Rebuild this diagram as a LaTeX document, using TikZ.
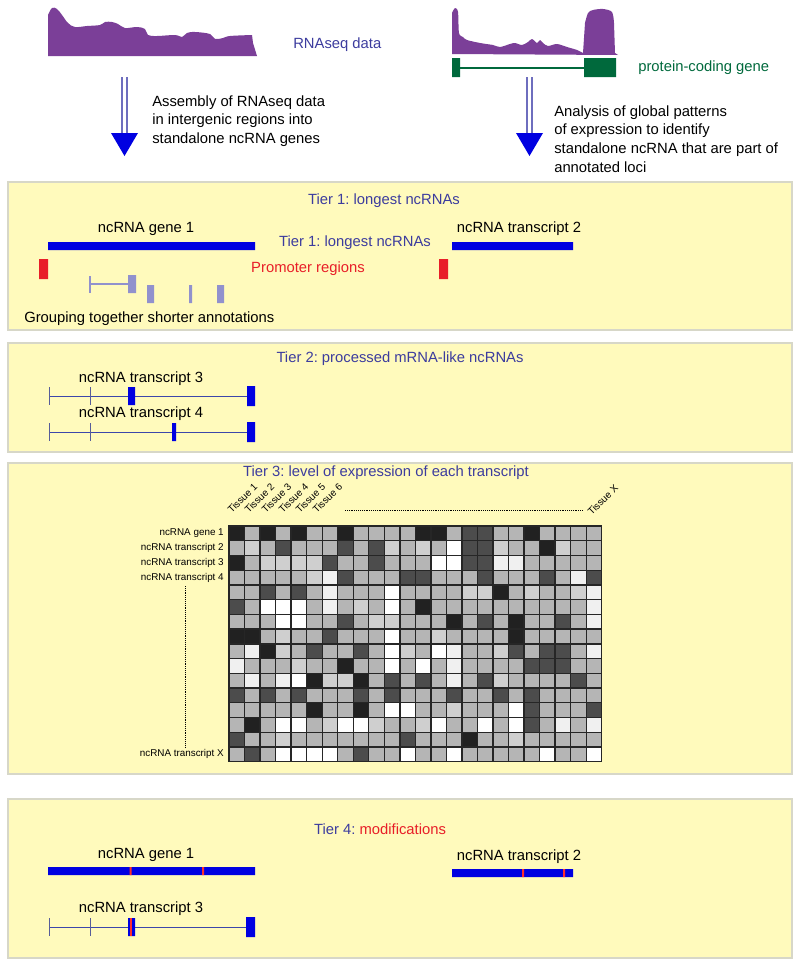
\documentclass[tikz,border=0pt]{standalone}
\usepackage{fontspec}
\setmainfont{Liberation Sans}
\frenchspacing
\definecolor{peak}{RGB}{123,63,152}
\definecolor{tiertxt}{RGB}{60,60,158}
\definecolor{genegreen}{RGB}{0,105,60}
\definecolor{barblue}{RGB}{0,0,225}
\definecolor{promred}{RGB}{232,30,40}
\definecolor{modred}{RGB}{255,45,45}
\definecolor{shortlav}{RGB}{145,145,205}
\definecolor{panelfill}{RGB}{255,250,188}
\definecolor{panelline}{RGB}{215,215,200}
\definecolor{intron}{RGB}{60,70,170}
\definecolor{shaft}{RGB}{110,110,190}
\begin{document}
\begin{tikzpicture}[x=0.75pt,y=-0.75pt,
    txt/.style={inner sep=0pt,font=\fontsize{11.1}{14}\selectfont},
    tier/.style={txt,text=tiertxt},
    small/.style={inner sep=0pt,font=\fontsize{7.4}{9}\selectfont},
    panel/.style={fill=panelfill,draw=panelline,line width=0.8pt},
    intronline/.style={draw=intron,line width=0.7pt},
    tickline/.style={draw=intron!60!gray,line width=0.7pt},
    cellK/.style={fill=black!87},
    cellD/.style={fill=black!70},
    cellM/.style={fill=black!29},
    cellL/.style={fill=black!19},
    cellE/.style={fill=black!6},
    cellW/.style={fill=white}]
\useasboundingbox (0,0) rectangle (800,967);

\fill[peak] (48,56) -- plot[smooth,tension=0.6] coordinates {(48,15) (52,8) (57,9) (62,15) (68,23) (75,27) (87,26) (100,25) (105,22) (112,22) (118,24) (125,28) (137,27) (145,29) (148,35) (157,36) (175,35) (182,37) (187,33) (195,32) (210,34) (215,39) (223,38) (230,36) (252,35)} -- (253,43) -- (257,56) -- cycle;
\fill[peak] (452,54) -- plot[smooth,tension=0.5] coordinates {(452,13) (455,8) (458,12) (459,33) (463,37) (467,40) (480,43) (493,45) (500,47) (510,44) (515,43) (522,45) (528,42) (532,39) (537,43) (540,40) (543,43) (548,46) (557,44) (567,47) (577,50) (583,53)} -- plot[smooth] coordinates {(585,23) (588,13) (593,10) (603,9) (612,12) (614,23)} -- (615,53) -- (618,55) -- cycle;
\fill[genegreen] (452,58) rectangle (460,77) (584,58) rectangle (616,77);
\draw[genegreen,line width=0.8pt] (460,68) -- (584,68);
\node[tier,anchor=west] (rnaseq) at (293,45) {RNAseq data};
\node[txt,text=genegreen,anchor=west] (pcg) at (638,68) {protein-coding gene};

\foreach \ax in {124.5,529.5} {
    \coordinate (arr) at (\ax,77);
    \draw[shaft,line width=0.8pt] (arr) ++(-2.5,0) -- ++(0,57) (arr) ++(2.5,0) -- ++(0,57);
    \fill[barblue] (arr) ++(-13.5,56) -- ++(27,0) -- ++(-13.5,23) -- cycle;
}
\node[txt,align=left,anchor=west] (asm) at (152,121) {Assembly of RNAseq data\\in intergenic regions into\\standalone ncRNA genes};
\node[txt,align=left,anchor=west] (glob) at (554,139) {Analysis of global patterns\\of expression to identify\\standalone ncRNA that are part of\\annotated loci};

\draw[panel] (8,182) rectangle (792,330);
\node[tier] (tone) at (384,201) {Tier 1: longest ncRNAs};
\node[txt] (geneone) at (146,229) {ncRNA gene 1};
\node[txt] (trtwo) at (519,229) {ncRNA transcript 2};
\fill[barblue] (48,242) rectangle (255,250) (452,242) rectangle (573,250);
\node[tier] (toneb) at (355,243) {Tier 1: longest ncRNAs};
\fill[promred] (39,259) rectangle (48,279) (439,259) rectangle (448,279);
\node[txt,text=promred] (prom) at (308,269) {Promoter regions};
\draw[shortlav,line width=0.8pt] (90,276) -- (90,293) (90,284) -- (128,284);
\fill[shortlav] (128,275) rectangle (136,293) (147,285) rectangle (154,303) (189,285) rectangle (192,303) (217,285) rectangle (224,303);
\node[txt,anchor=west] (grp) at (24,319) {Grouping together shorter annotations};

\draw[panel] (8,343) rectangle (792,452);
\node[tier] (ttwo) at (400,359) {Tier 2: processed mRNA-like ncRNAs};
\node[txt] (trthree) at (141,379) {ncRNA transcript 3};
\node[txt] (trfour) at (141,414) {ncRNA transcript 4};
\foreach \y/\xa/\xb in {396/128/135,432/172/176} {
    \draw[intronline] (49,\y) -- (247,\y);
    \draw[tickline] (49,\y-9) -- (49,\y+9) (90,\y-9) -- (90,\y+9);
    \fill[barblue] (\xa,\y-9) rectangle (\xb,\y+9) (247,\y-10) rectangle (255,\y+10);
}

\draw[panel] (8,463) rectangle (792,774);
\node[tier] (tthree) at (386,473) {Tier 3: level of expression of each transcript};
\foreach \i in {1,...,6}
    \node[small,rotate=45,anchor=south west] (tis\i) at ({232+(\i-1)*17},514) {Tissue \i};
\node[small,rotate=45,anchor=south west] (tisX) at (592,516) {Tissue X};
\draw[densely dotted] (345,510) -- (583,510);
\foreach \r/\t in {1/ncRNA gene 1,2/ncRNA transcript 2,3/ncRNA transcript 3,4/ncRNA transcript 4,16/ncRNA transcript X}
    \node[small,anchor=east] (row\r) at (224,{526+(\r-0.5)*14.73}) {\t};
\draw[densely dotted] (185,586) -- (185,748);
\foreach [count=\r] \row in {
    {K,M,K,M,K,M,M,K,M,M,M,M,K,K,M,D,D,M,M,K,M,M,M,M},
    {M,L,M,D,M,M,M,D,M,D,L,M,L,M,W,D,D,L,M,M,K,L,M,M},
    {K,M,L,L,L,L,D,M,M,D,M,M,M,W,W,D,D,E,E,M,M,M,M,M},
    {M,M,M,M,M,L,E,D,M,M,M,D,D,M,M,M,D,M,M,M,D,M,E,D},
    {M,M,D,M,D,M,E,M,M,M,W,M,M,M,M,L,L,K,M,L,M,M,L,E},
    {D,M,W,W,W,M,E,M,L,M,W,M,K,M,M,M,M,M,M,M,M,M,M,E},
    {M,M,M,W,W,M,M,D,M,L,L,M,M,M,K,M,D,M,K,M,M,D,M,E},
    {K,K,M,L,M,M,D,M,M,M,W,M,M,L,M,M,M,M,K,M,M,M,M,M},
    {M,E,K,L,M,D,M,M,D,M,W,L,M,W,E,M,M,L,D,M,D,D,M,E},
    {E,M,M,M,L,M,M,K,M,M,W,M,W,M,E,M,M,M,M,D,D,D,M,M},
    {M,E,M,E,W,K,L,L,K,M,D,M,D,M,E,M,D,L,M,M,M,M,D,M},
    {D,M,D,M,D,M,M,M,D,M,D,M,M,M,D,M,M,D,M,D,M,M,M,M},
    {M,M,M,M,M,K,M,M,K,M,W,W,M,M,L,M,M,M,W,D,M,M,M,D},
    {M,K,M,W,W,M,L,W,W,L,M,M,L,W,M,M,W,M,W,D,M,E,M,E},
    {D,M,M,L,M,M,M,M,M,M,M,D,M,M,M,K,M,M,L,M,M,M,M,M},
    {M,D,M,W,W,W,W,M,D,M,M,W,M,M,W,M,M,M,M,M,W,M,M,W}} {
    \foreach [count=\c] \v in \row
        \draw[cell\v,draw=black!85,line width=1pt] ({229+(\c-1)*15.53},{526+(\r-1)*14.73}) rectangle +(15.53,14.73);
}

\draw[panel] (8,799) rectangle (792,958);
\node[txt] (tfour) at (380,829) {\textcolor{tiertxt}{Tier 4:} \textcolor{promred}{modifications}};
\node[txt] (geneonem) at (146,855) {ncRNA gene 1};
\node[txt] (trtwom) at (519,857) {ncRNA transcript 2};
\fill[barblue] (48,867) rectangle (255,875) (452,869) rectangle (573,877);
\fill[modred] (129.5,867) rectangle (131.5,875) (202,867) rectangle (204,875) (522,869) rectangle (524,877) (563,869) rectangle (565,877);
\node[txt] (trthreem) at (141,909) {ncRNA transcript 3};
\draw[intronline] (49,927) -- (247,927);
\draw[tickline] (49,918) -- (49,936) (90,918) -- (90,936);
\fill[barblue] (128,918) rectangle (135,936) (246,917) rectangle (255,937);
\fill[modred] (129.5,918) rectangle (131.5,936);

\end{tikzpicture}
\end{document}
